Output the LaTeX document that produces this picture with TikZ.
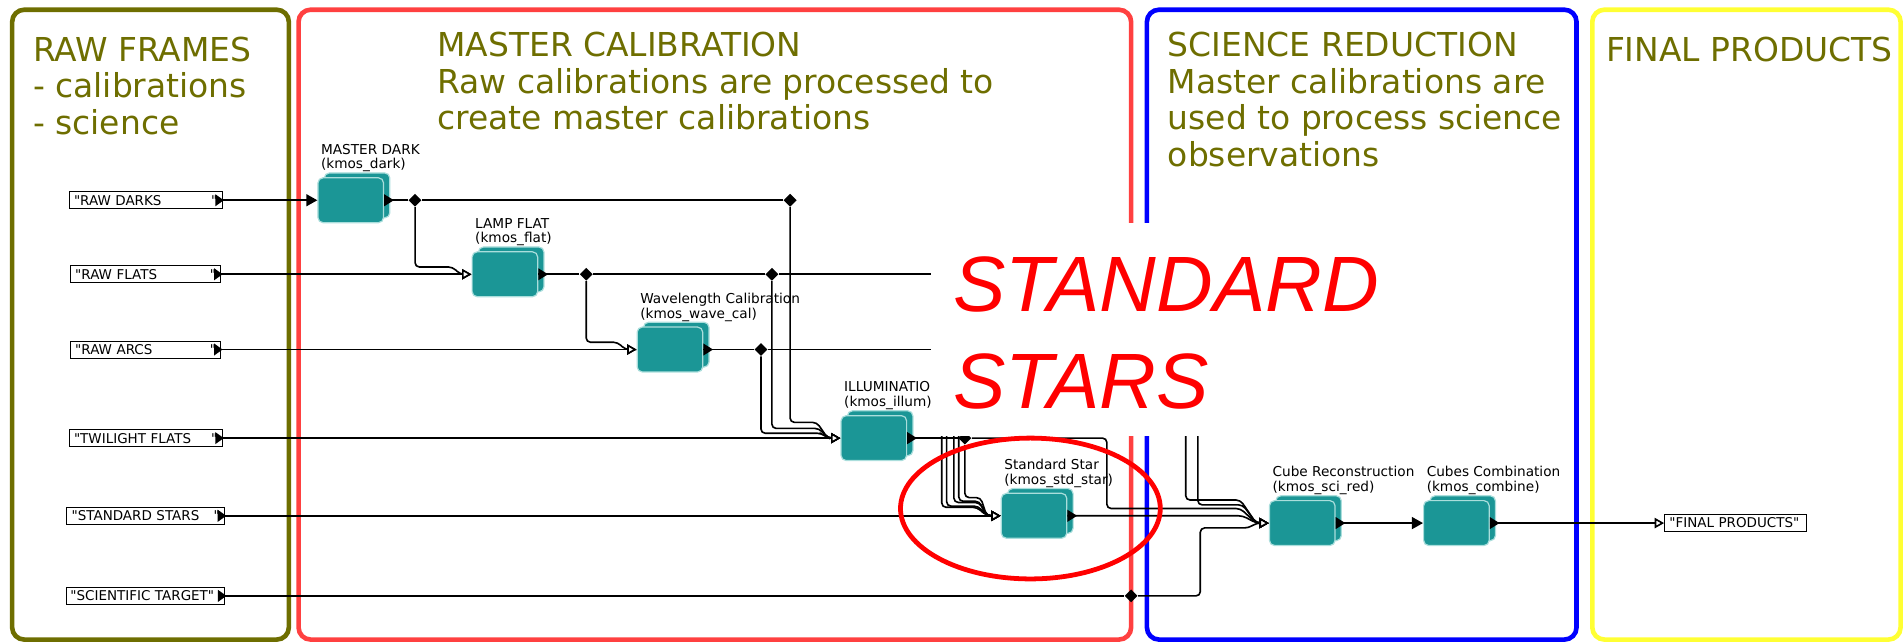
\documentclass[tikz,border=0pt]{standalone}
\usepackage{fontspec}
\setmainfont{DejaVu Sans}
\newfontfamily\starfont{Liberation Sans}
\usetikzlibrary{arrows.meta,shapes.geometric,shadows}

\definecolor{olivetxt}{RGB}{110,110,0}
\definecolor{calred}{RGB}{255,64,64}
\definecolor{prodyellow}{RGB}{255,255,51}
\definecolor{recipeteal}{RGB}{27,150,150}
\definecolor{recipeedge}{RGB}{170,222,220}

\begin{document}
\begin{tikzpicture}[
            x=0.025cm, y=-0.025cm,
            panel/.style={line width=2.7pt, rounded corners=0.25cm},
            title/.style={anchor=north west, inner sep=0pt, align=left, text=olivetxt, font=\fontsize{19.3}{21.5}\selectfont},
            rawbox/.style={draw, line width=0.5pt, fill=white, inner xsep=0.1cm, inner ysep=0pt, minimum height=0.35cm, text width=2.95cm, font=\fontsize{7.9}{8.4}\selectfont},
            recipe/.style={rectangle, rounded corners=3pt, fill=recipeteal, draw=recipeedge, line width=0.7pt, minimum width=1.35cm, minimum height=0.925cm, copy shadow={shadow xshift=0.13cm, shadow yshift=0.1cm}},
            lbl/.style={anchor=south west, align=left, inner sep=0pt, xshift=0.07cm, yshift=0.1cm, font=\fontsize{8}{8.6}\selectfont},
            jn/.style={diamond, fill=black, inner sep=0pt, minimum size=0.27cm},
            wire/.style={line width=0.95pt, rounded corners=2.5pt},
            fin/.style={wire, -{Triangle[length=6.5pt,width=7pt]}},
            oin/.style={wire, -{Triangle[length=5.5pt,width=6pt,fill=white]}}
        ]
            \useasboundingbox (0,0) rectangle (1568,530);

            % Panels
            \draw[panel, olivetxt] (10,8) rectangle (238,527);
            \draw[panel, calred] (246,8) rectangle (932,527);
            \draw[panel, blue] (945,8) rectangle (1299,527);
            \draw[panel, prodyellow] (1312,8) rectangle (1566,527);

            \node[title] (rawtitle) at (27,30) {RAW FRAMES\\- calibrations\\- science};
            \node[title] (caltitle) at (360,26) {MASTER CALIBRATION\\Raw calibrations are processed to\\create master calibrations};
            \node[title] (scititle) at (962,26) {SCIENCE REDUCTION\\Master calibrations are\\used to process science\\observations};
            \node[title] (prodtitle) at (1323,30) {FINAL PRODUCTS};

            % Raw frames
            \node[rawbox] (rawdark) at (120,165) {\textquotedbl RAW DARKS\hfill\textquotedbl\hspace*{0.25cm}};
            \node[rawbox, text width=2.9cm] (rawflat) at (120,226) {\textquotedbl RAW FLATS\hfill\textquotedbl\hspace*{0.25cm}};
            \node[rawbox, text width=2.9cm] (rawarc) at (120,288) {\textquotedbl RAW ARCS\hfill\textquotedbl\hspace*{0.25cm}};
            \node[rawbox] (rawtwi) at (120,361) {\textquotedbl TWILIGHT FLATS\hfill\textquotedbl\hspace*{0.25cm}};
            \node[rawbox, text width=3.05cm] (rawstd) at (120,425) {\textquotedbl STANDARD STARS\hfill\textquotedbl\hspace*{0.25cm}};
            \node[rawbox, text width=3.1cm, inner xsep=0.08cm] (rawsci) at (120,491) {\textquotedbl SCIENTIFIC TARGET\textquotedbl\hfill\hspace*{0.1cm}};

            % Recipes
            \node[recipe, label={[lbl]north west:{MASTER DARK\\(kmos\_dark)}}] (mdark) at (289,165) {};
            \node[recipe, label={[lbl]north west:{LAMP FLAT\\(kmos\_flat)}}] (lflat) at (416,226) {};
            \node[recipe, label={[lbl]north west:{Wavelength Calibration\\(kmos\_wave\_cal)}}] (wcal) at (552,288) {};
            \node[recipe, label={[lbl]north west:{ILLUMINATION\\(kmos\_illum)}}] (illum) at (720,361) {};
            \node[recipe, label={[lbl]north west:{Standard Star\\(kmos\_std\_star)}}] (stdstar) at (852,425) {};
            \node[recipe, label={[lbl]north west:{Cube Reconstruction\\(kmos\_sci\_red)}}] (scired) at (1073,431) {};
            \node[recipe, label={[lbl]north west:{Cubes Combination\\(kmos\_combine)}}] (combine) at (1200,431) {};
            \node[rawbox, text width=2.725cm] (final) at (1430,431) {\textquotedbl FINAL PRODUCTS\textquotedbl};

            % Junctions
            \node[jn] (jdark) at (342,165) {};
            \node[jn] (jdark2) at (651,165) {};
            \node[jn] (jflat) at (483,226) {};
            \node[jn] (jflat2) at (636,226) {};
            \node[jn] (jwave) at (627,288) {};
            \node[jn] (jillum) at (795,361) {};
            \node[jn] (jsci) at (932,491) {};
            \coordinate (ssflat) at (776,226);
            \coordinate (ssflat2) at (780,226);
            \coordinate (sswave) at (786,288);
            \coordinate (sswave2) at (790,288);
            \coordinate (srflat) at (977,226);
            \coordinate (srwave) at (987,288);
            \coordinate (flatend) at (1000,226);
            \coordinate (waveend) at (1000,288);

            % Arrows
            \draw[fin] (rawdark.east) -- (mdark.west);
            \draw[wire] (mdark.east) -- (jdark) -- (jdark2);
            \draw[oin] (jdark) -- (342,220) -- (373,220) -- (379,226) -- (lflat.west);
            \draw[oin] (rawflat.east) -- (lflat.west);
            \draw[wire] (lflat.east) -- (jflat) -- (jflat2) -- (flatend);
            \draw[oin] (jflat) -- (483,282) -- (509,282) -- (515,288) -- (wcal.west);
            \draw[oin] (rawarc.east) -- (wcal.west);
            \draw[wire] (wcal.east) -- (jwave) -- (waveend);
            \draw[oin] (jdark2) -- (651,348) -- (673,348) -- (682,361) -- (illum.west);
            \draw[oin] (jflat2) -- (636,353) -- (675,353) -- (682,361) -- (illum.west);
            \draw[oin] (jwave) -- (627,357) -- (677,357) -- (682,361) -- (illum.west);
            \draw[oin] (rawtwi.east) -- (illum.west);
            \draw[wire] (illum.east) -- (jillum);
            \draw[oin] (jillum) -- (912,361) -- (912,419) -- (1022,419) -- (1035,431) -- (scired.west);
            \draw[oin] (ssflat) -- (776,418) -- (805,418) -- (813,425) -- (stdstar.west);
            \draw[oin] (ssflat2) -- (780,417) -- (806,417) -- (813,425) -- (stdstar.west);
            \draw[oin] (sswave) -- (786,414) -- (807,414) -- (813,425) -- (stdstar.west);
            \draw[oin] (sswave2) -- (790,413) -- (807,413) -- (813,425) -- (stdstar.west);
            \draw[oin] (jillum) -- (795,410) -- (808,410) -- (813,425) -- (stdstar.west);
            \draw[oin] (rawstd.east) -- (stdstar.west);
            \draw[oin] (stdstar.east) -- (1024,425) -- (1035,431) -- (scired.west);
            \draw[oin] (srflat) -- (977,412) -- (1022,412) -- (1035,431) -- (scired.west);
            \draw[oin] (srwave) -- (987,416) -- (1024,416) -- (1035,431) -- (scired.west);
            \draw[wire] (rawsci.east) -- (jsci);
            \draw[oin] (jsci) -- (989,491) -- (989,435) -- (1029,435) -- (1035,431) -- (scired.west);
            \draw[fin] (scired.east) -- (combine.west);
            \draw[oin] (combine.east) -- (final.west);

            % Output ports
            \foreach \n in {mdark,lflat,wcal,illum,stdstar,scired,combine}
                \fill (\n.east) ++(0,-5) -- ++(8,5) -- ++(-8,5) -- cycle;
            \foreach \n in {rawdark,rawflat,rawarc,rawtwi,rawstd,rawsci}
                \fill (\n.east) ++(-6,-5) -- ++(7,5) -- ++(-7,5) -- cycle;

            % Standard stars highlight
            \fill[white] (767,184) rectangle (1150,359);
            \node[anchor=north west, inner sep=0pt, align=left, text=red, font=\starfont\itshape\fontsize{46}{57}\selectfont] (stars) at (785,211) {STANDARD\\STARS};
            \draw[red, line width=2.8pt] (849,419) ellipse [x radius=2.675cm, y radius=1.45cm];
        \end{tikzpicture}
\end{document}
